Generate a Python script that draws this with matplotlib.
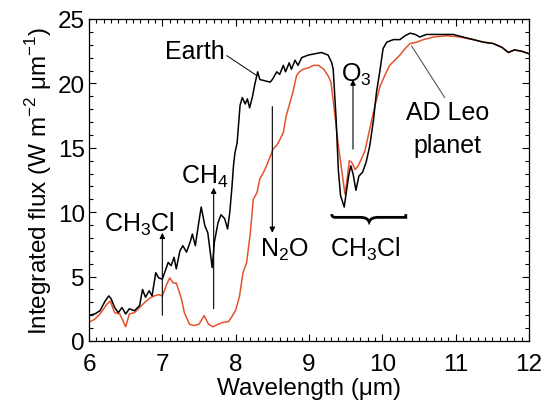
import numpy as np
import matplotlib.pyplot as plt
from matplotlib.path import Path
from matplotlib.patches import PathPatch
from matplotlib.ticker import MultipleLocator

plt.rcParams['font.family'] = ['Liberation Sans', 'DejaVu Sans']
plt.rcParams['mathtext.fontset'] = 'custom'
plt.rcParams['mathtext.rm'] = 'Liberation Sans'

# Earth spectrum (black)
wl_earth = [6.0, 6.08, 6.15, 6.22, 6.27, 6.3, 6.35, 6.4, 6.45, 6.5, 6.55, 6.62, 6.69,
            6.73, 6.77, 6.82, 6.86, 6.91, 6.95, 7.0, 7.04, 7.08, 7.12, 7.16, 7.19, 7.24,
            7.28, 7.33, 7.38, 7.41, 7.45, 7.49, 7.53, 7.58, 7.62, 7.68, 7.71, 7.76, 7.8,
            7.85, 7.89, 7.92, 7.95, 7.97, 7.99, 8.02, 8.06, 8.09, 8.13, 8.16, 8.19, 8.23,
            8.26, 8.3, 8.33, 8.4, 8.47, 8.5, 8.56, 8.6, 8.65, 8.68, 8.73, 8.76, 8.81,
            8.85, 8.9, 8.99, 9.08, 9.17, 9.26, 9.31, 9.33, 9.37, 9.4, 9.43, 9.48, 9.51,
            9.54, 9.57, 9.6, 9.64, 9.68, 9.73, 9.78, 9.83, 9.88, 9.92, 9.97, 10.01, 10.06,
            10.15, 10.24, 10.31, 10.38, 10.45, 10.51, 10.6, 10.79, 10.97, 11.1, 11.24,
            11.38, 11.51, 11.63, 11.72, 11.8, 11.9, 12.0]
flux_earth = [2.0, 2.1, 2.35, 3.1, 3.5, 3.3, 2.6, 2.2, 2.6, 2.1, 2.5, 2.35, 2.75,
              4.0, 3.4, 3.9, 3.5, 5.3, 4.9, 4.8, 5.45, 6.1, 5.85, 6.5, 5.6, 7.0,
              7.4, 6.9, 7.7, 8.3, 7.4, 8.95, 10.4, 8.95, 8.4, 5.7, 7.7, 9.2, 9.8,
              9.5, 8.7, 10.0, 12.0, 13.6, 14.6, 15.4, 18.3, 18.9, 18.4, 18.8, 18.1, 19.0,
              19.9, 20.9, 20.3, 20.2, 20.1, 20.3, 20.9, 20.7, 21.4, 20.9, 21.6, 21.1, 21.8,
              21.4, 22.0, 22.2, 22.3, 22.4, 22.2, 21.6, 21.1, 17.2, 13.3, 11.3, 10.4, 11.6,
              12.8, 13.6, 13.0, 11.7, 12.8, 13.1, 13.9, 15.2, 17.2, 19.3, 21.1, 22.7, 23.2,
              23.4, 23.4, 23.7, 23.9, 23.8, 23.6, 23.8, 23.8, 23.8, 23.6, 23.4,
              23.2, 23.1, 22.8, 22.4, 22.6, 22.5, 22.3]

# AD Leo planet spectrum (red)
wl_adleo = [6.0, 6.08, 6.15, 6.25, 6.29, 6.35, 6.42, 6.5, 6.55, 6.62, 6.69, 6.76, 6.82,
            6.89, 6.95, 7.0, 7.06, 7.1, 7.15, 7.19, 7.26, 7.3, 7.37, 7.43, 7.5, 7.57,
            7.63, 7.69, 7.76, 7.83, 7.9, 7.95, 8.0, 8.05, 8.1, 8.15, 8.2, 8.24, 8.29,
            8.33, 8.38, 8.42, 8.47, 8.51, 8.56, 8.6, 8.65, 8.69, 8.74, 8.78, 8.83, 8.87,
            8.92, 8.99, 9.06, 9.13, 9.2, 9.26, 9.3, 9.35, 9.4, 9.45, 9.49, 9.51, 9.55,
            9.58, 9.63, 9.67, 9.72, 9.76, 9.83, 9.9, 9.97, 10.04, 10.1, 10.17, 10.24,
            10.31, 10.38, 10.47, 10.56, 10.7, 10.88, 11.06, 11.24, 11.38, 11.51, 11.63,
            11.72, 11.8, 11.9, 12.0]
flux_adleo = [1.45, 1.7, 2.1, 2.9, 3.1, 2.2, 2.1, 1.1, 2.1, 2.2, 2.6, 3.0, 3.3,
              3.5, 3.6, 3.5, 4.4, 4.9, 4.5, 4.5, 3.3, 2.2, 1.3, 1.2, 1.3, 1.97,
              1.3, 1.1, 1.3, 1.45, 1.5, 1.9, 2.4, 3.4, 5.3, 6.1, 8.4, 11.0, 11.5,
              12.6, 13.1, 13.6, 14.3, 14.9, 15.2, 15.6, 16.2, 17.5, 18.5, 19.3, 20.6, 20.9,
              21.1, 21.2, 21.4, 21.4, 21.1, 20.6, 20.1, 17.7, 15.2, 13.1, 11.4, 12.1, 14.0,
              13.9, 13.3, 13.6, 14.2, 14.7, 16.5, 18.3, 19.8, 20.7, 21.4, 21.8, 22.2,
              22.7, 23.1, 23.2, 23.4, 23.6, 23.7, 23.6, 23.4, 23.2, 23.1, 22.8,
              22.4, 22.6, 22.5, 22.3]

fig = plt.figure(figsize=(5.44, 4.10), dpi=100)
ax = fig.add_axes([89 / 544, 68 / 410, 440 / 544, 322 / 410])

ax.plot(wl_adleo, flux_adleo, color='#e4532c', lw=1.1)
ax.plot(wl_earth, flux_earth, color='black', lw=1.1)

ax.set_xlim(6, 12)
ax.set_ylim(0, 25)
ax.xaxis.set_major_locator(MultipleLocator(1))
ax.xaxis.set_minor_locator(MultipleLocator(0.1))
ax.yaxis.set_major_locator(MultipleLocator(5))
ax.yaxis.set_minor_locator(MultipleLocator(1))
ax.tick_params(which='both', direction='in', top=True, right=True, labelsize=17.5,
               width=0.8)
ax.tick_params(which='major', length=5)
ax.tick_params(which='minor', length=3)
ax.tick_params(axis='x', which='major', pad=9)
ax.tick_params(axis='y', which='major', pad=3)
for s in ax.spines.values():
    s.set_linewidth(0.9)
ax.set_xlabel('Wavelength (\u03bcm)', fontsize=17.5, labelpad=1)
ax.set_ylabel('Integrated flux (W m$^{-2}$ \u03bcm$^{-1}$)', fontsize=17.5, labelpad=3)

fs = 18
arr = dict(arrowstyle='-|>', color='black', lw=0.8, mutation_scale=8,
           shrinkA=0, shrinkB=0)

# Earth label with leader
ax.text(7.45, 22.0, 'Earth', fontsize=fs, ha='center', va='baseline')
ax.plot([7.88, 8.29], [22.15, 20.6], color='black', lw=0.7)

# absorption markers
ax.annotate('', xy=(7.0, 8.4), xytext=(7.0, 2.0), arrowprops=arr)
ax.text(6.69, 8.56, 'CH$_3$Cl', fontsize=fs, ha='center', va='baseline')
ax.annotate('', xy=(7.7, 11.9), xytext=(7.7, 2.5), arrowprops=arr)
ax.text(7.58, 12.3, 'CH$_4$', fontsize=fs, ha='center', va='baseline')
ax.annotate('', xy=(8.5, 8.4), xytext=(8.5, 18.2), arrowprops=arr)
ax.text(8.67, 6.6, 'N$_2$O', fontsize=fs, ha='center', va='baseline')
ax.annotate('', xy=(9.6, 20.3), xytext=(9.6, 14.9), arrowprops=arr)
ax.text(9.64, 20.2, 'O$_3$', fontsize=fs, ha='center', va='baseline')
ax.text(9.77, 6.6, 'CH$_3$Cl', fontsize=fs, ha='center', va='baseline')

# AD Leo label with leader
ax.text(10.89, 17.2, 'AD Leo', fontsize=fs, ha='center', va='baseline')
ax.text(10.89, 14.7, 'planet', fontsize=fs, ha='center', va='baseline')
ax.plot([10.40, 10.85], [22.9, 18.9], color='#444444', lw=0.7)

# curly brace under the O3 band
x0, x1, xm, yb = 9.31, 10.32, 9.82, 9.6
verts = [(x0, yb + 0.25), (x0, yb), (x0 + 0.05, yb), (x0 + 0.15, yb),
         (xm - 0.12, yb), (xm - 0.02, yb), (xm, yb - 0.35),
         (xm + 0.02, yb), (xm + 0.12, yb), (x1 - 0.15, yb),
         (x1 - 0.05, yb), (x1, yb), (x1, yb + 0.25)]
codes = [Path.MOVETO, Path.CURVE3, Path.CURVE3, Path.LINETO,
         Path.LINETO, Path.CURVE3, Path.CURVE3,
         Path.CURVE3, Path.CURVE3, Path.LINETO,
         Path.CURVE3, Path.CURVE3, Path.LINETO]
ax.add_patch(PathPatch(Path(verts, codes), fill=False, lw=2.0, color='black'))

fig.savefig('out.png', dpi=100)
